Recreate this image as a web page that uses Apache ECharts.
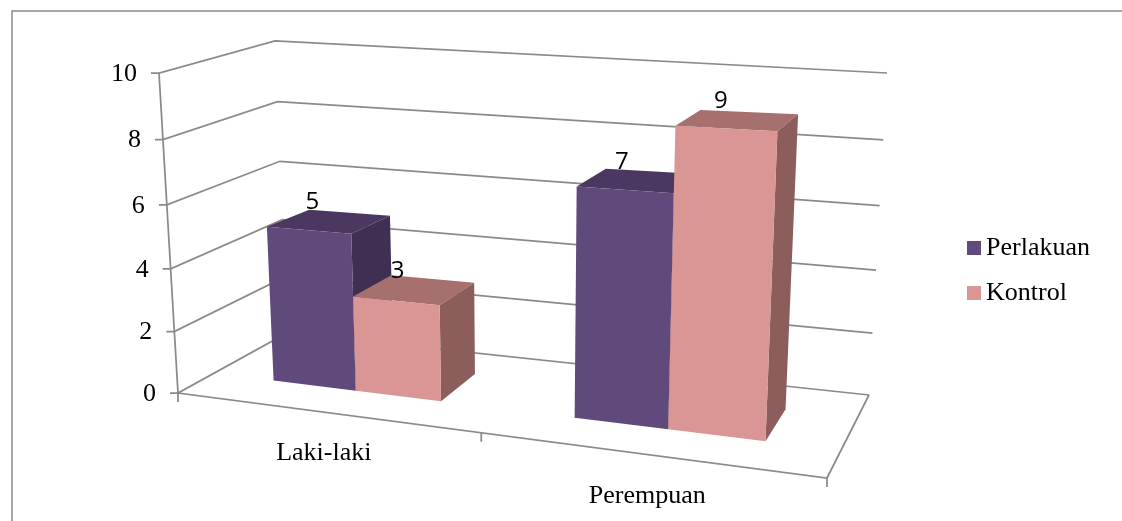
<!DOCTYPE html>
<html>
<head>
<meta charset="utf-8">
<style>html,body{margin:0;padding:0;background:#fff}#chart{width:1122px;height:521px}</style>
<script src="https://cdn.jsdelivr.net/npm/echarts@6/dist/echarts.min.js"></script>
</head>
<body>
<div id="chart"></div>
<script>
// Survey counts per group
const categories = ['Laki-laki', 'Perempuan'];
const perlakuan = [5, 7];
const kontrol = [3, 9];
const yTicks = [0, 2, 4, 6, 8, 10];

// Box corners on screen: floor and ceiling, front and back
const floorCorners = { fl: [178, 393], fr: [827, 478], bl: [287, 333], br: [869, 395] };
const wallCeiling = { fl: [159, 73], fr: [844, 114], bl: [275, 41], br: [887, 73] };
// Bars stand inside the box, where foreshortening is stronger than on the walls
const barCeiling = { fl: [159, 77], fr: [844, 114], bl: [275, 56], br: [887, 73] };
const perspective = 1.14;
const wallBow = 0.05;
const barDepth = [0.33, 0.73];
const barShare = 0.286;

const lineColor = '#8a8a8a';
const serif = '"Liberation Serif", serif';
const palette = {
  Perlakuan: { front: '#604A7B', top: '#4A3860', side: '#3F2F52' },
  Kontrol: { front: '#D99694', top: '#A5706E', side: '#8B5E5C' }
};

function mix(a, b, k) { return [a[0] + (b[0] - a[0]) * k, a[1] + (b[1] - a[1]) * k]; }

// Maps position along the categories (t), height (v) and depth (w) to the screen
function project(t, v, w, ceiling) {
  const u = t / (t + perspective * (1 - t));
  const low = mix(mix(floorCorners.fl, floorCorners.fr, u), mix(floorCorners.bl, floorCorners.br, u), w);
  const high = mix(mix(ceiling.fl, ceiling.fr, u), mix(ceiling.bl, ceiling.br, u), w);
  return mix(low, high, v);
}

// Reads scale positions from the hidden cartesian axes as fractions of the grid
function toUnit(params, point) {
  const g = params.coordSys;
  return { t: (point[0] - g.x) / g.width, v: (g.y + g.height - point[1]) / g.height };
}

function line(points) {
  return { type: 'polyline', shape: { points }, style: { stroke: lineColor, lineWidth: 1.75, fill: null } };
}

function label(text, x, y, align, font, size) {
  return {
    type: 'text',
    style: { text, x, y, fill: '#000', font: size + 'px ' + font, textAlign: align, textVerticalAlign: 'middle' }
  };
}

function renderWall(params, api) {
  const value = api.value(1);
  const raw = toUnit(params, api.coord([0, value])).v;
  // Wall rules bunch slightly towards the floor
  const v = raw - wallBow * raw * (1 - raw);
  const front = project(0, v, 0, wallCeiling);
  const back = project(0, v, 1, wallCeiling);
  const right = project(1, v, 1, wallCeiling);
  return {
    type: 'group',
    children: [
      line([[front[0] - 8, front[1]], front, back, right]),
      label(String(value), front[0] - 22, front[1] + 1, 'right', serif, 26)
    ]
  };
}

function renderFloor(params, api) {
  const index = api.value(0);
  const { t } = toUnit(params, api.coord([index, 0]));
  const half = api.size([1, 0])[0] / params.coordSys.width / 2;
  const edge = project(t, 0, 0, wallCeiling);
  const tick = (pos) => { const p = project(pos, 0, 0, wallCeiling); return line([p, [p[0], p[1] + 9]]); };
  const children = [
    label(categories[index], edge[0] - 1, edge[1] + 41 + index, 'center', serif, 26),
    tick(t + half)
  ];
  if (index === 0) {
    children.push(tick(t - half));
    children.push(line([project(0, 1, 0, wallCeiling), project(0, 0, 0, wallCeiling), project(1, 0, 0, wallCeiling), project(1, 0, 1, wallCeiling)]));
  }
  return { type: 'group', children };
}

function makeBarRenderer(name, side) {
  const colors = palette[name];
  return function (params, api) {
    const value = api.value(1);
    const point = api.coord([api.value(0), value]);
    const { t, v } = toUnit(params, point);
    const width = barShare * api.size([1, 0])[0] / params.coordSys.width;
    const t0 = side < 0 ? t - width : t;
    const t1 = t0 + width;
    const [w0, w1] = barDepth;
    const at = (tt, vv, ww) => project(tt, vv, ww, barCeiling);
    const face = (pts, fill) => ({ type: 'polygon', shape: { points: pts }, style: { fill } });
    const a = at(t0, v, w0), b = at(t1, v, w0), c = at(t1, v, w1), d = at(t0, v, w1);
    const cx = (a[0] + b[0] + c[0] + d[0]) / 4;
    const cy = (a[1] + b[1] + c[1] + d[1]) / 4;
    return {
      type: 'group',
      children: [
        face([a, b, c, d], colors.top),
        face([b, c, at(t1, 0, w1), at(t1, 0, w0)], colors.side),
        face([a, b, at(t1, 0, w0), at(t0, 0, w0)], colors.front),
        label(String(value), cx - 17, cy - 19, 'center', '"Open Sans", sans-serif', 24)
      ]
    };
  };
}

const chart = echarts.init(document.getElementById('chart'), null, { renderer: 'canvas' });
chart.setOption({
  animation: false,
  backgroundColor: '#fff',
  grid: { left: 178, top: 73, width: 649, height: 320 },
  xAxis: { type: 'category', data: categories, show: false },
  yAxis: { type: 'value', min: 0, max: 10, interval: 2, show: false },
  legend: {
    orient: 'vertical', left: 962, top: 228, icon: 'rect', itemWidth: 14, itemHeight: 14, itemGap: 15,
    data: ['Perlakuan', 'Kontrol'], selectedMode: false,
    textStyle: { fontFamily: serif, fontSize: 26, color: '#000', lineHeight: 30 }
  },
  graphic: [{
    type: 'polyline', silent: true,
    shape: { points: [[12, 521], [12, 11], [1122, 11]] },
    style: { stroke: lineColor, lineWidth: 1.5, fill: null }
  }],
  series: [
    { type: 'custom', name: 'walls', silent: true, clip: false, encode: { x: 0, y: 1 },
      data: yTicks.map((tick) => [0, tick]), renderItem: renderWall },
    { type: 'custom', name: 'floor', silent: true, clip: false, encode: { x: 0, y: 1 },
      data: categories.map((_, i) => [i, 0]), renderItem: renderFloor },
    { type: 'custom', name: 'Perlakuan', silent: true, clip: false, encode: { x: 0, y: 1 },
      itemStyle: { color: palette.Perlakuan.front },
      data: perlakuan.map((value, i) => [i, value]), renderItem: makeBarRenderer('Perlakuan', -1) },
    { type: 'custom', name: 'Kontrol', silent: true, clip: false, encode: { x: 0, y: 1 },
      itemStyle: { color: palette.Kontrol.front },
      data: kontrol.map((value, i) => [i, value]), renderItem: makeBarRenderer('Kontrol', 1) }
  ]
});
</script>
</body>
</html>
